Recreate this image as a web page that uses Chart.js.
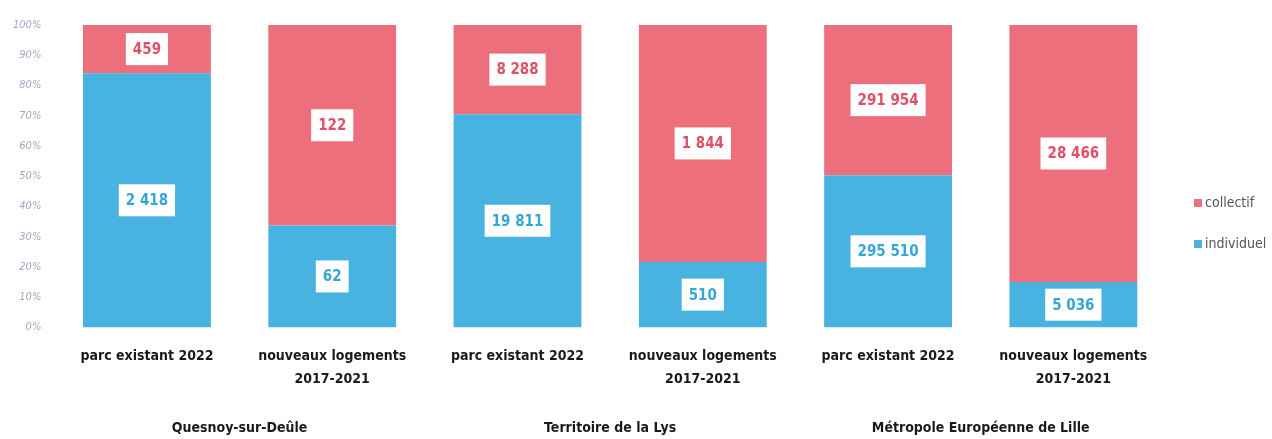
<!doctype html>
<html lang="fr">
<head>
<meta charset="UTF-8">
<title>Logements collectifs / individuels</title>
<style>
    html, body { margin: 0; padding: 0; background: #fff; }
    #chart { display: block; }
</style>
</head>
<body>
<canvas id="chart" width="1272" height="439"></canvas>
<script src="https://cdn.jsdelivr.net/npm/chart.js@4/dist/chart.umd.min.js"></script>
<script>
    // categories (bars) and their groups
    var barLabels = [
        'parc existant 2022', ['nouveaux logements', '2017-2021'],
        'parc existant 2022', ['nouveaux logements', '2017-2021'],
        'parc existant 2022', ['nouveaux logements', '2017-2021']
    ];
    var groupLabels = ['Quesnoy-sur-Deûle', 'Territoire de la Lys', 'Métropole Européenne de Lille'];

    // counts of dwellings
    var collectif = [459, 122, 8288, 1844, 291954, 28466];
    var individuel = [2418, 62, 19811, 510, 295510, 5036];

    var yTicks = [0, 10, 20, 30, 40, 50, 60, 70, 80, 90, 100];

    var RED = '#ec6f7b';
    var BLUE = '#48b3e0';
    var FONT = '"Liberation Sans Narrow", "DejaVu Sans Condensed", Arial, sans-serif';

    // share of each series in its bar (100% stacked)
    function share(a, b) {
        return a.map(function (v, i) { return v / (v + b[i]) * 100; });
    }

    function fmt(n) {
        return String(n).replace(/\B(?=(\d{3})+(?!\d))/g, ' ');
    }

    // white boxes with the counts, centred in each segment
    var boxLabels = {
        id: 'boxLabels',
        afterDatasetsDraw: function (chart) {
            var ctx = chart.ctx;
            ctx.save();
            ctx.font = 'bold 15px ' + FONT;
            ctx.textAlign = 'center';
            ctx.textBaseline = 'middle';
            chart.data.datasets.forEach(function (ds, di) {
                var meta = chart.getDatasetMeta(di);
                meta.data.forEach(function (el, i) {
                    var txt = fmt(ds.counts[i]);
                    var cy = (el.y + el.base) / 2;
                    var w = ctx.measureText(txt).width + 14;
                    var h = 32;
                    ctx.fillStyle = '#fff';
                    ctx.fillRect(el.x - w / 2, cy - h / 2, w, h);
                    ctx.fillStyle = ds.textColor;
                    ctx.fillText(txt, el.x, cy + 1);
                });
            });
            ctx.restore();
        }
    };

    // legend on the right, collectif above individuel
    var sideLegend = {
        id: 'sideLegend',
        afterDraw: function (chart) {
            var ctx = chart.ctx;
            var items = chart.data.datasets.slice().reverse();
            ctx.save();
            ctx.font = '14px ' + FONT;
            ctx.textBaseline = 'middle';
            items.forEach(function (ds, i) {
                var y = 203 + i * 41;
                ctx.fillStyle = ds.backgroundColor;
                ctx.fillRect(1194, y - 4, 8, 8);
                ctx.fillStyle = '#555';
                ctx.fillText(ds.label, 1205, y);
            });
            ctx.restore();
        }
    };

    new Chart(document.getElementById('chart'), {
        type: 'bar',
        data: {
            labels: barLabels,
            datasets: [
                {
                    label: 'individuel',
                    data: share(individuel, collectif),
                    counts: individuel,
                    backgroundColor: BLUE,
                    textColor: '#35a6d8'
                },
                {
                    label: 'collectif',
                    data: share(collectif, individuel),
                    counts: collectif,
                    backgroundColor: RED,
                    textColor: '#e05068'
                }
            ]
        },
        options: {
            responsive: false,
            animation: false,
            categoryPercentage: 1,
            barPercentage: 0.69,
            layout: { padding: { top: 25, left: 0, right: 106, bottom: -10 } },
            plugins: {
                tooltip: { enabled: false },
                legend: { display: false }
            },
            scales: {
                x: {
                    stacked: true,
                    grid: { display: false, drawTicks: false },
                    border: { display: false },
                    ticks: {
                        padding: 18,
                        color: '#1a1a1a',
                        font: { family: FONT, size: 14, weight: 'bold', lineHeight: 1.6 },
                        maxRotation: 0,
                        autoSkip: false
                    }
                },
                x2: {
                    type: 'category',
                    position: 'bottom',
                    labels: groupLabels,
                    offset: true,
                    weight: 2,
                    grid: { display: false, drawTicks: false },
                    border: { display: false },
                    ticks: {
                        padding: 12,
                        color: '#1a1a1a',
                        font: { family: FONT, size: 14, weight: 'bold' },
                        maxRotation: 0
                    }
                },
                y: {
                    stacked: true,
                    min: 0,
                    max: 100,
                    afterBuildTicks: function (axis) {
                        axis.ticks = yTicks.map(function (v) { return { value: v }; });
                    },
                    grid: { display: false, drawTicks: false },
                    border: { display: false },
                    ticks: {
                        padding: 13,
                        color: '#9ea8c4',
                        font: { family: FONT, size: 11, style: 'italic' },
                        callback: function (v) { return v + '%'; }
                    }
                }
            }
        },
        plugins: [boxLabels, sideLegend]
    });
</script>
</body>
</html>
